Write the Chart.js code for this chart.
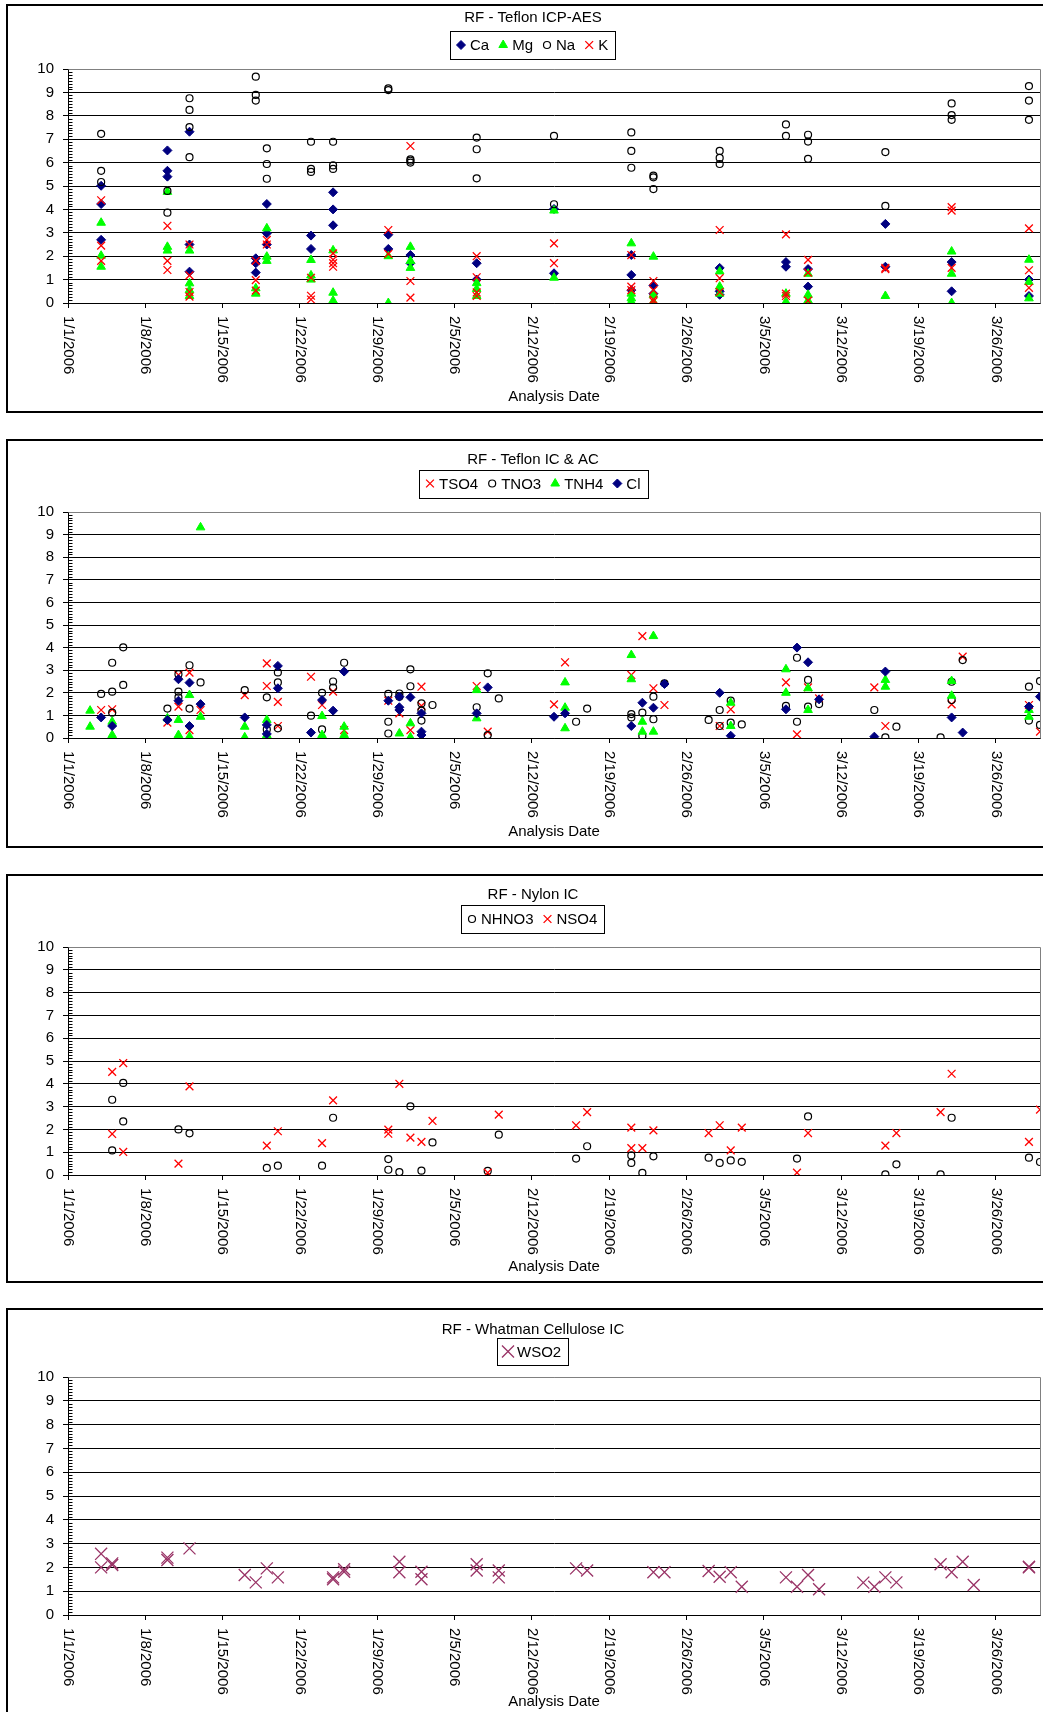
<!DOCTYPE html>
<html>
<head>
<meta charset="utf-8">
<script src="https://cdn.jsdelivr.net/npm/chart.js@4/dist/chart.umd.min.js"></script>
<style>
  html, body { margin: 0; padding: 0; background: #fff; width: 1043px; height: 1712px; overflow: hidden; }
  .panel { position: absolute; left: 6px; width: 1050px; border: 2px solid #000; background: #fff; }
  .panel canvas { display: block; }
</style>
</head>
<body>
<div class="panel" style="top:4px;height:405px"><canvas id="c1" width="1050" height="405"></canvas></div>
<div class="panel" style="top:439px;height:405px"><canvas id="c2" width="1050" height="405"></canvas></div>
<div class="panel" style="top:874px;height:405px"><canvas id="c3" width="1050" height="405"></canvas></div>
<div class="panel" style="top:1308px;height:420px"><canvas id="c4" width="1050" height="420"></canvas></div>
<script>
// x values are days counted from 1/1/2006
const dateTicks = ['1/1/2006', '1/8/2006', '1/15/2006', '1/22/2006', '1/29/2006', '2/5/2006', '2/12/2006',
  '2/19/2006', '2/26/2006', '3/5/2006', '3/12/2006', '3/19/2006', '3/26/2006'];
const dayMax = 88; // 3/30/2006
const yTicks = [0, 1, 2, 3, 4, 5, 6, 7, 8, 9, 10];

// RF - Teflon ICP-AES
const caPts = [[3,5.01],[3,4.23],[3,2.7],[9,6.52],[9,5.65],[9,5.4],[11,7.32],[11,2.5],[11,1.34],[17,1.91],[17,1.7],[17,1.3],
  [18,4.23],[18,2.98],[18,2.5],[22,2.88],[22,2.31],[24,4.73],[24,4.0],[24,3.32],[29,2.92],[29,2.31],[31,2.05],[31,1.7],
  [37,1.7],[37,1.0],[44,4.02],[44,1.27],[51,2.05],[51,1.2],[51,0.55],[53,0.75],[53,0.4],[59,1.5],[59,0.5],[59,0.35],
  [65,1.75],[65,1.55],[67,1.45],[67,0.7],[74,3.38],[74,1.55],[80,1.75],[80,0.5],[87,1.0],[87,0.3]];
const mgPts = [[3,3.43],[3,2.02],[3,1.55],[9,4.75],[9,2.4],[9,2.24],[11,2.24],[11,0.84],[11,0.55],[11,0.3],[17,0.63],[17,0.4],
  [18,3.19],[18,1.98],[18,1.8],[22,1.84],[22,1.18],[22,1.0],[24,2.25],[24,0.44],[24,0.1],[29,2.0],[29,0.0],[31,2.4],[31,1.8],
  [31,1.5],[37,0.85],[37,0.6],[37,0.3],[44,3.95],[44,1.08],[51,2.55],[51,0.4],[51,0.2],[51,0.05],[53,1.98],[53,0.35],[53,0.05],
  [59,1.35],[59,0.7],[59,0.4],[65,0.4],[65,0.05],[67,1.25],[67,0.35],[67,0.1],[74,0.3],[80,2.2],[80,1.25],[80,0.0],
  [87,1.85],[87,0.9],[87,0.2]];
const naPts = [[3,7.23],[3,5.65],[3,5.17],[9,4.79],[9,3.86],[11,8.75],[11,8.25],[11,7.52],[11,6.23],[17,9.67],[17,8.89],[17,8.65],
  [18,6.61],[18,5.94],[18,5.31],[22,6.89],[22,5.73],[22,5.6],[24,6.89],[24,5.88],[24,5.73],[29,9.17],[29,9.1],[31,6.14],[31,6.08],
  [31,6.0],[37,7.07],[37,6.57],[37,5.33],[44,7.14],[44,4.22],[51,7.29],[51,6.5],[51,5.78],[53,5.44],[53,5.37],[53,4.87],
  [59,6.5],[59,6.2],[59,5.94],[65,7.63],[65,7.14],[67,7.19],[67,6.9],[67,6.16],[74,6.45],[74,4.15],[80,8.53],[80,8.03],[80,7.83],
  [87,9.27],[87,8.65],[87,7.83]];
const kPts = [[3,4.39],[3,2.45],[3,1.8],[9,3.3],[9,1.8],[9,1.41],[11,2.5],[11,1.18],[11,0.47],[11,0.27],[17,1.8],[17,0.98],[17,0.53],
  [18,2.7],[18,2.5],[22,1.08],[22,0.31],[22,0.15],[24,2.12],[24,1.85],[24,1.7],[24,1.55],[29,3.12],[29,2.1],[31,6.71],[31,0.94],
  [31,0.23],[37,2.0],[37,1.1],[37,0.45],[37,0.3],[44,2.55],[44,1.7],[51,2.05],[51,0.7],[51,0.55],[53,0.94],[53,0.55],[53,0.15],
  [53,0.07],[59,3.12],[59,1.06],[59,0.47],[65,2.93],[65,0.4],[65,0.3],[67,1.84],[67,1.3],[67,0.1],[74,1.5],[74,1.45],
  [80,4.1],[80,3.95],[80,1.5],[87,3.19],[87,1.4],[87,0.65]];

// RF - Teflon IC & AC
const tso4Pts = [[3,1.24],[4,1.27],[9,0.68],[10,2.79],[10,1.39],[11,2.89],[11,0.35],[12,1.24],[16,1.9],[18,3.3],[18,2.3],[19,1.6],
  [19,0.53],[22,2.71],[23,1.46],[24,2.05],[25,0.35],[29,1.65],[30,1.09],[31,0.35],[32,2.27],[32,1.42],[37,2.3],[38,0.28],
  [44,1.49],[45,3.35],[51,2.79],[52,4.51],[53,2.2],[54,1.46],[59,0.53],[60,1.27],[65,2.46],[66,0.16],[67,2.24],[68,1.75],
  [73,2.24],[74,0.53],[80,1.49],[81,3.6],[87,1.46],[88,0.28]];
const tno3Pts = [[3,1.95],[4,3.33],[4,2.05],[4,1.12],[5,4.01],[5,2.35],[9,1.3],[10,2.82],[10,2.05],[10,1.8],[11,3.22],[11,1.3],
  [12,2.46],[16,2.12],[18,1.8],[18,0.38],[19,2.9],[19,2.46],[19,0.43],[22,0.99],[23,2.0],[23,0.38],[24,2.5],[24,2.23],[25,3.33],
  [29,1.95],[29,0.72],[29,0.2],[30,1.97],[30,1.83],[31,3.04],[31,2.29],[32,1.53],[32,1.21],[32,0.77],[33,1.46],[37,1.36],
  [38,2.86],[38,0.13],[39,1.75],[46,0.72],[47,1.3],[51,1.06],[51,0.91],[52,1.12],[52,0.09],[53,1.83],[53,0.83],[54,2.42],
  [58,0.8],[59,1.24],[59,0.53],[60,1.65],[60,0.68],[61,0.6],[65,1.42],[66,3.55],[66,0.72],[67,2.57],[67,1.39],[68,1.5],
  [73,1.24],[74,0.03],[75,0.5],[79,0.03],[80,2.49],[80,1.68],[81,3.45],[87,2.27],[87,0.77],[88,2.52],[88,0.58]];
const tnh4Pts = [[2,1.21],[2,0.5],[4,0.72],[4,0.13],[9,0.87],[10,0.8],[10,0.13],[11,1.9],[11,0.06],[12,9.32],[12,0.94],[16,0.5],
  [16,0.03],[18,0.8],[18,0.13],[23,0.97],[23,0.13],[25,0.5],[25,0.13],[30,0.2],[31,0.65],[31,0.03],[37,2.12],[37,0.87],
  [45,2.46],[45,1.34],[45,0.43],[51,3.67],[51,2.6],[52,0.72],[52,0.28],[53,4.51],[53,0.28],[60,1.56],[60,0.53],[65,3.04],
  [65,2.0],[67,2.2],[67,1.24],[74,2.57],[74,2.27],[80,2.52],[80,1.87],[87,1.24],[87,0.94]];
const clPts = [[3,0.91],[4,0.53],[9,0.8],[10,2.6],[10,1.65],[11,2.45],[11,0.53],[12,1.5],[16,0.91],[18,0.58],[18,0.18],[19,3.19],
  [19,2.2],[22,0.24],[23,1.68],[24,1.21],[25,2.94],[29,1.65],[30,1.83],[30,1.36],[30,1.24],[31,1.8],[32,1.09],[32,0.28],[32,0.13],
  [37,1.09],[38,2.24],[44,0.94],[45,1.09],[51,0.53],[52,1.56],[53,1.34],[54,2.39],[59,2.0],[60,0.1],[65,1.27],[66,4.0],
  [67,3.35],[68,1.71],[73,0.06],[74,2.94],[80,0.91],[81,0.24],[87,1.39],[88,1.83]];

// RF - Nylon IC
const nhno3Pts = [[4,3.3],[4,1.08],[5,4.04],[5,2.35],[10,2.0],[11,1.83],[18,0.31],[19,0.41],[23,0.41],[24,2.51],[29,0.7],[29,0.23],
  [30,0.13],[31,3.01],[32,0.19],[33,1.43],[38,0.18],[39,1.77],[46,0.72],[47,1.26],[51,0.86],[51,0.53],[52,0.09],[53,0.82],
  [58,0.76],[59,0.53],[60,0.64],[61,0.58],[66,0.72],[67,2.57],[74,0.03],[75,0.47],[79,0.03],[80,2.51],[87,0.76],[88,0.57]];
const nso4Pts = [[4,4.52],[4,1.8],[5,4.91],[5,1.01],[10,0.5],[11,3.89],[18,1.29],[19,1.92],[23,1.4],[24,3.27],[29,1.99],[29,1.81],
  [30,4.0],[31,1.64],[32,1.45],[33,2.37],[38,0.1],[39,2.65],[46,2.18],[47,2.76],[51,2.08],[51,1.18],[52,1.18],[53,1.96],
  [58,1.84],[59,2.18],[60,1.08],[61,2.08],[66,0.1],[67,1.84],[74,1.29],[75,1.84],[79,2.76],[80,4.44],[87,1.45],[88,2.87]];

// RF - Whatman Cellulose IC
const wso2Pts = [[3,2.57],[3,2.0],[4,2.17],[4,2.1],[9,2.41],[9,2.31],[11,2.8],[16,1.68],[17,1.37],[18,1.96],[19,1.58],[24,1.5],
  [24,1.58],[25,1.82],[25,1.92],[30,2.24],[30,1.8],[32,1.82],[32,1.5],[37,2.13],[37,1.87],[39,1.87],[39,1.58],[46,1.96],
  [47,1.87],[53,1.8],[54,1.8],[58,1.85],[59,1.61],[60,1.8],[61,1.19],[65,1.58],[66,1.19],[67,1.68],[68,1.08],[72,1.36],
  [73,1.19],[74,1.58],[75,1.37],[79,2.13],[80,1.8],[81,2.24],[82,1.26],[87,2.03],[87,2.0]];

const FONT = '"Liberation Sans", Arial, sans-serif';
Chart.defaults.font.family = FONT;

const markers = {
  diamond: { style: 'rectRot', r: 4.5, fill: '#000080', stroke: '#000080', bw: 1 },
  triangle: { style: 'triangle', r: 5, fill: '#00ff00', stroke: '#00ff00', bw: 1 },
  circle: { style: 'circle', r: 3.5, fill: 'rgba(0,0,0,0)', stroke: '#000', bw: 1.2 },
  cross: { style: 'crossRot', r: 5.5, fill: 'rgba(0,0,0,0)', stroke: '#ff0000', bw: 1.3 },
  bigCross: { style: 'crossRot', r: 8.5, fill: 'rgba(0,0,0,0)', stroke: '#993366', bw: 1.3 }
};

const decor = {
  id: 'decor',
  beforeDatasetsDraw(chart, args, o) {
    const { ctx, chartArea: a, scales: { y } } = chart;
    const l = Math.round(a.left) + 0.5;
    const t = Math.round(a.top) + 0.5;
    const r = Math.round(a.right) + 0.5;
    const b = Math.round(a.bottom) + 0.5;
    ctx.save();
    ctx.lineWidth = 1;
    ctx.strokeStyle = '#000';
    ctx.beginPath();
    for (let v = 0.125; v < 10; v += 0.125) {
      if (v % 1 === 0) continue;
      const py = Math.round(y.getPixelForValue(v)) + 0.5;
      ctx.moveTo(l, py);
      ctx.lineTo(l + 4, py);
    }
    ctx.stroke();
    ctx.strokeStyle = '#808080';
    ctx.beginPath();
    ctx.moveTo(l, t);
    ctx.lineTo(r, t);
    ctx.lineTo(r, b);
    ctx.stroke();
    ctx.restore();
  },
  afterDraw(chart, args, o) {
    const { ctx, chartArea: a, scales: { x } } = chart;
    const W = chart.width;
    ctx.save();
    ctx.fillStyle = '#000';
    ctx.font = '15px ' + FONT;

    // rotated date labels
    ctx.textAlign = 'left';
    ctx.textBaseline = 'middle';
    x.ticks.forEach(t => {
      const px = x.getPixelForValue(t.value);
      ctx.save();
      ctx.translate(px, a.bottom + 13);
      ctx.rotate(Math.PI / 2);
      ctx.fillText(dateTicks[Math.round(t.value / 7)], 0, 0);
      ctx.restore();
    });

    // axis title
    ctx.textAlign = 'center';
    ctx.fillText('Analysis Date', (a.left + a.right) / 2, o.axisTitleY);

    // chart title
    ctx.fillText(o.title, W / 2, o.titleY);

    // legend with box
    const items = chart.data.datasets;
    const widths = items.map(d => ctx.measureText(d.label).width);
    const boxW = 11 + widths.reduce((s, w) => s + 9 + w, 0) + 14 * (items.length - 1) + 7;
    const bx = Math.round(W / 2 - boxW / 2);
    const by = Math.round(o.legendY - o.legendH / 2);
    ctx.strokeStyle = '#000';
    ctx.lineWidth = 1;
    ctx.strokeRect(bx + 0.5, by + 0.5, Math.round(boxW), o.legendH);
    let cx = bx + 11;
    items.forEach((d, i) => {
      const m = d.marker;
      ctx.fillStyle = m.fill;
      ctx.strokeStyle = m.stroke;
      ctx.lineWidth = m.bw;
      Chart.helpers.drawPoint(ctx, { pointStyle: m.style, radius: m.r, borderWidth: m.bw, rotation: 0 }, cx, o.legendY);
      ctx.fillStyle = '#000';
      ctx.textAlign = 'left';
      ctx.fillText(d.label, cx + 9, o.legendY + 1);
      cx += 9 + widths[i] + 14;
    });
    ctx.restore();
  }
};

function makePanel(id, title, series, box) {
  const n = series.length;
  const datasets = series.map((s, i) => ({
    label: s.label,
    marker: s.marker,
    order: n - i,
    data: s.pts.map(p => ({ x: p[0], y: p[1] })),
    showLine: false,
    pointStyle: s.marker.style,
    pointRadius: s.marker.r,
    pointHoverRadius: s.marker.r,
    pointBackgroundColor: s.marker.fill,
    pointBorderColor: s.marker.stroke,
    pointBorderWidth: s.marker.bw
  }));
  return new Chart(document.getElementById(id), {
    type: 'scatter',
    data: { datasets },
    options: {
      responsive: false,
      devicePixelRatio: 1,
      animation: false,
      events: [],
      layout: { padding: { top: box.top, right: 1050 - box.right, bottom: 0, left: 0 } },
      plugins: {
        legend: { display: false },
        title: { display: false },
        tooltip: { enabled: false },
        decor: { title, titleY: box.titleY, legendY: box.legendY, legendH: box.legendH, axisTitleY: box.axisTitleY }
      },
      scales: {
        x: {
          type: 'linear',
          min: 0,
          max: dayMax,
          ticks: { stepSize: 7, display: false, includeBounds: false },
          grid: { drawOnChartArea: false, drawTicks: true, tickLength: 5, color: '#000' },
          border: { display: true, color: '#000', width: 1 },
          afterFit: s => { s.height = s.chart.height - box.bottom; }
        },
        y: {
          min: yTicks[0],
          max: yTicks[yTicks.length - 1],
          afterBuildTicks: s => { s.ticks = yTicks.map(v => ({ value: v })); },
          ticks: { color: '#000', padding: 9, font: { size: 15, family: FONT } },
          grid: {
            color: c => (c.tick && c.tick.value === 10 ? '#808080' : '#000'),
            tickColor: '#000',
            tickLength: 5,
            lineWidth: 1
          },
          border: { display: true, color: '#000', width: 1 },
          afterFit: s => { s.width = box.left; }
        }
      }
    },
    plugins: [decor]
  });
}

makePanel('c1', 'RF - Teflon ICP-AES', [
  { label: 'Ca', pts: caPts, marker: markers.diamond },
  { label: 'Mg', pts: mgPts, marker: markers.triangle },
  { label: 'Na', pts: naPts, marker: markers.circle },
  { label: 'K', pts: kPts, marker: markers.cross }
], { left: 60, right: 1032, top: 63, bottom: 297, titleY: 12, legendY: 39, legendH: 28, axisTitleY: 391 });

makePanel('c2', 'RF - Teflon IC & AC', [
  { label: 'TSO4', pts: tso4Pts, marker: markers.cross },
  { label: 'TNO3', pts: tno3Pts, marker: markers.circle },
  { label: 'TNH4', pts: tnh4Pts, marker: markers.triangle },
  { label: 'Cl', pts: clPts, marker: markers.diamond }
], { left: 60, right: 1032, top: 71, bottom: 297, titleY: 19, legendY: 42.5, legendH: 28, axisTitleY: 391 });

makePanel('c3', 'RF - Nylon IC', [
  { label: 'NHNO3', pts: nhno3Pts, marker: markers.circle },
  { label: 'NSO4', pts: nso4Pts, marker: markers.cross }
], { left: 60, right: 1032, top: 71, bottom: 299, titleY: 19, legendY: 43, legendH: 28, axisTitleY: 391 });

makePanel('c4', 'RF - Whatman Cellulose IC', [
  { label: 'WSO2', pts: wso2Pts, marker: markers.bigCross }
], { left: 60, right: 1032, top: 67, bottom: 305, titleY: 20, legendY: 41.5, legendH: 27, axisTitleY: 392 });
</script>
</body>
</html>
